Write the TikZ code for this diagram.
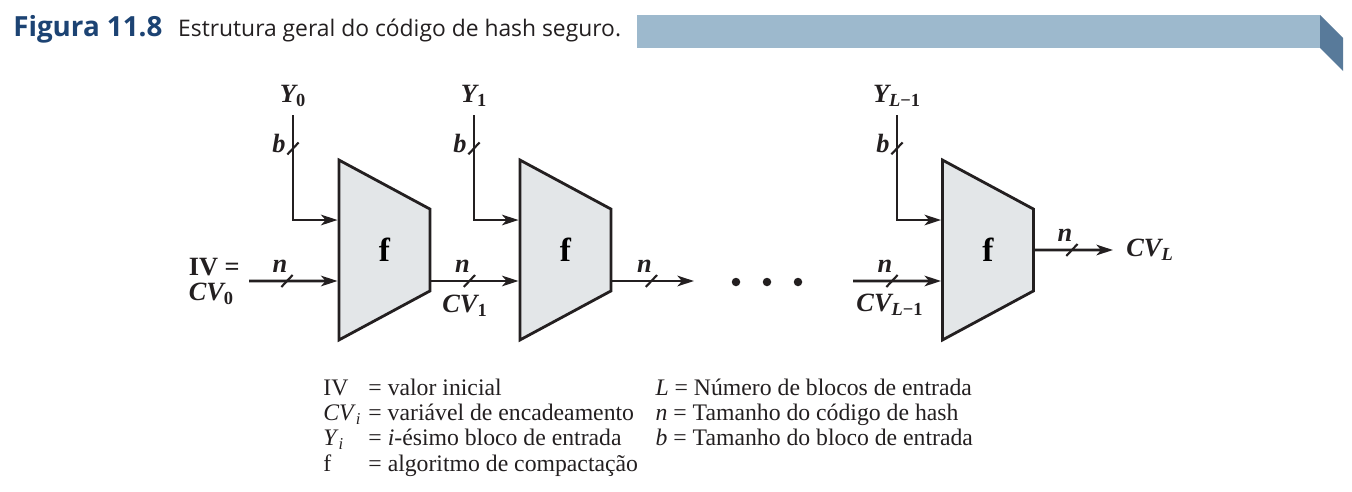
\documentclass[tikz,border=0pt]{standalone}
\usepackage{fontspec}
\setmainfont{Liberation Serif}
\newfontfamily\capfont{Open Sans}
\usetikzlibrary{positioning, arrows.meta, shapes.geometric, decorations.markings}
\definecolor{ink}{HTML}{231F20}
\definecolor{boxfill}{HTML}{E3E6E8}
\definecolor{band}{HTML}{9DB9CD}
\definecolor{bandedge}{HTML}{587A9A}
\definecolor{titleblue}{HTML}{1C4373}
\tikzset{fblock/.style={draw=ink, fill=boxfill, line width=1.6pt, shape=trapezium, trapezium angle=38.3, trapezium stretches=true, shape border rotate=270, minimum width=3.6cm, minimum height=1.82cm, inner sep=0pt, font=\bfseries\fontsize{19}{19}\selectfont},
wire/.style={draw=ink, line width=1.6pt, -{Stealth[length=3.3mm, width=2.1mm, inset=0.9mm]}},
lab/.style={inner sep=0pt, text=ink, font=\bfseries\itshape\fontsize{15}{14.3}\selectfont},
busH/.style 2 args={postaction={decorate, decoration={markings, mark=at position #1 with {\draw[draw=ink, line width=1.2pt, -] (-3.2pt,-3.4pt) -- (3.2pt,3.4pt); \node[lab] at (-0.14cm,0.3cm) {#2};}}}},
busV/.style 2 args={postaction={decorate, decoration={markings, mark=at position #1 with {\draw[draw=ink, line width=1.2pt, -] (3.4pt,-3.2pt) -- (-3.4pt,3.2pt); \node[lab] at (-0.1cm,-0.28cm) {#2};}}}},
dot/.style={circle, fill=ink, inner sep=0pt, minimum size=0.17cm}}

\begin{document}
\begin{tikzpicture}[x=0.02cm, y=-0.02cm]
  \useasboundingbox (0,0) rectangle (1352,491);
  % Titulo
  \node[anchor=base west, inner sep=0pt, text=titleblue, font=\capfont\bfseries\fontsize{15.8}{18}\selectfont] (fig) at (13,36) {Figura 11.8};
  \node[base right=0.3cm of fig, inner sep=0pt, text=ink, font=\capfont\fontsize{13}{16}\selectfont] (cap) {Estrutura geral do código de hash seguro.};
  \fill[band] (637,15) rectangle (1320,48);
  \fill[bandedge] (1320,15) -- (1343,38) -- (1343,71) -- (1320,48) -- cycle;
  % Blocos de compactacao
  \node[fblock] (f1) at (384.5,250) {f};
  \node[fblock] (f2) at (565.5,250) {f};
  \node[fblock] (f3) at (988,250) {f};
  \coordinate (f1a) at ([yshift=0.6cm]f1.west);
  \coordinate (f1b) at ([yshift=-0.62cm]f1.west);
  \coordinate (f2a) at ([yshift=0.6cm]f2.west);
  \coordinate (f2b) at ([yshift=-0.62cm]f2.west);
  \coordinate (f3a) at ([yshift=0.6cm]f3.west);
  \coordinate (f3b) at ([yshift=-0.62cm]f3.west);
  % Blocos de entrada
  \node[lab] (y0) at (293,96) {Y\textsubscript{\textup{0}}};
  \node[lab] (y1) at (474,96) {Y\textsubscript{\textup{1}}};
  \node[lab] (yl) at (897,96) {Y\textsubscript{L\textup{−1}}};
  \draw[wire, busV={0.66cm}{b}] ([yshift=-0.17cm]y0.south) |- (f1a);
  \draw[wire, busV={0.66cm}{b}] ([yshift=-0.17cm]y1.south) |- (f2a);
  \draw[wire, busV={0.66cm}{b}] ([yshift=-0.17cm]yl.south) |- (f3a);
  % Variaveis de encadeamento
  \coordinate (ivin) at (249,281);
  \node[lab, align=left, left=0.18cm of ivin] (iv) {\textup{IV =}\\CV\textsubscript{\textup{0}}};
  \draw[wire, busH={0.76cm}{n}] (ivin) -- (f1b);
  \draw[wire, busH={0.76cm}{n}] (f1.east |- f2b) -- (f2b);
  \node[lab] (cv1) at (465,306) {CV\textsubscript{\textup{1}}};
  \coordinate (gapa) at (694,281);
  \draw[wire, busH={0.78cm}{n}] (f2.east |- gapa) -- (gapa);
  \foreach \x [count=\i] in {736,767,798}
    \node[dot] (d\i) at (\x,282) {};
  \coordinate (gapb) at (853,281);
  \draw[wire, busH={0.78cm}{n}] (gapb) -- (f3b);
  \node[lab] (cvl1) at (890,305) {CV\textsubscript{L\textup{−1}}};
  \coordinate (outtip) at (1113,250);
  \draw[wire, busH={0.74cm}{n}] (f3.east) -- (outtip);
  \node[lab, right=0.26cm of outtip] (cvl) {CV\textsubscript{L}};
  % Legenda
  \node[anchor=base west, inner sep=0pt, text=ink, font=\fontsize{13.5}{14.5}\selectfont] (key) at (323,395)
    {\begin{tabular}[t]{@{}l@{\hspace{4pt}}l@{\hspace{10pt}}l@{}}
     IV & = valor inicial & \textit{L} = Número de blocos de entrada\\
     \textit{CV}\textsubscript{\textit{i}} & = variável de encadeamento & \textit{n} = Tamanho do código de hash\\
     \textit{Y}\textsubscript{\textit{i}} & = \textit{i}-ésimo bloco de entrada & \textit{b} = Tamanho do bloco de entrada\\
     f & = algoritmo de compactação &
     \end{tabular}};
\end{tikzpicture}
\end{document}
